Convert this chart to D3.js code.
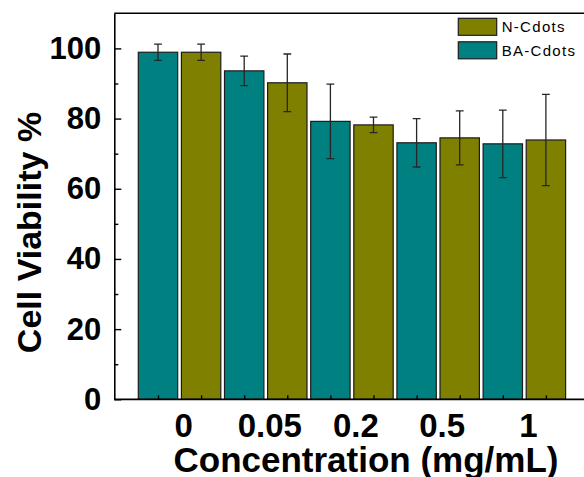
<!DOCTYPE html>
<html>
<head>
<meta charset="utf-8">
<script src="https://cdn.jsdelivr.net/npm/d3@7"></script>
<style>
  html, body { margin: 0; padding: 0; background: #fff; overflow: hidden; }
  svg { display: block; }
  text { font-family: Arial, "Liberation Sans", sans-serif; }
</style>
</head>
<body>
<svg id="chart" width="584" height="477"></svg>
<script>
// Concentrations tested (mg/mL)
const categories = ["0", "0.05", "0.2", "0.5", "1"];
// Series, in bar order within each concentration group
const seriesNames = ["BA-Cdots", "N-Cdots"];
const seriesColors = ["#008080", "#808000"];
// Mean cell viability (%)
const baMeans = [98.9, 93.6, 79.2, 73.1, 72.8];
const nMeans  = [98.9, 90.2, 78.2, 74.5, 73.9];
// Standard deviation (%)
const baErrors = [2.3, 4.2, 10.6, 6.9, 9.6];
const nErrors  = [2.3, 8.2, 2.2, 7.7, 13.0];
// Axis ticks
const yMajorTicks = [0, 20, 40, 60, 80, 100];
const yMinorTicks = [10, 30, 50, 70, 90];
const legendOrder = ["N-Cdots", "BA-Cdots"];

const means = { "BA-Cdots": baMeans, "N-Cdots": nMeans };
const errors = { "BA-Cdots": baErrors, "N-Cdots": nErrors };
const colorOf = d3.scaleOrdinal(seriesNames, seriesColors);

const rows = [];
categories.forEach((c, i) => {
  seriesNames.forEach(s => rows.push({ cat: c, series: s, value: means[s][i], err: errors[s][i] }));
});

const svg = d3.select("#chart");
const plot = { left: 114.3, top: 13.3, right: 600, bottom: 399.3 };

const y = d3.scaleLinear().domain([0, 110]).range([plot.bottom, plot.top]);
const groupStart = plot.left + 22.15;
const xCat = d3.scaleBand().domain(categories).range([groupStart, groupStart + 431]);
const xSeries = d3.scaleBand().domain(seriesNames).range([0, xCat.bandwidth()])
  .paddingInner(0.086).paddingOuter(0.043);
const barX = d => xCat(d.cat) + xSeries(d.series);
const barMid = d => barX(d) + xSeries.bandwidth() / 2;

// Bars
svg.append("g").selectAll("rect").data(rows).join("rect")
  .attr("x", barX)
  .attr("y", d => y(d.value))
  .attr("width", xSeries.bandwidth())
  .attr("height", d => y(0) - y(d.value))
  .attr("fill", d => colorOf(d.series))
  .attr("stroke", "#1c1c1c")
  .attr("stroke-width", 1.2);

// Error bars
const eb = svg.append("g").attr("stroke", "#262626").attr("stroke-width", 1.3).attr("fill", "none");
const cap = 3.9;
eb.selectAll("path").data(rows).join("path")
  .attr("d", d => {
    const cx = barMid(d), hi = y(d.value + d.err), lo = y(d.value - d.err);
    return `M${cx},${hi}V${lo}M${cx - cap},${hi}H${cx + cap}M${cx - cap},${lo}H${cx + cap}`;
  });

// Frame lines (top and bottom run past the right edge)
const frame = svg.append("g").attr("stroke", "#000").attr("stroke-width", 1.6).attr("fill", "none");
frame.append("path").attr("d", `M${plot.left},${plot.top}H${plot.right}`);

// Bottom axis: inward ticks at each bar centre
const barKeys = rows.map(d => d.cat + "|" + d.series);
const xBar = d3.scalePoint().domain(barKeys).range([barMid(rows[0]), barMid(rows[rows.length - 1])]);
const bottomAxis = svg.append("g").attr("transform", `translate(0,${plot.bottom})`)
  .call(d3.axisBottom(xBar).tickSizeInner(-4).tickSizeOuter(0).tickFormat(""));
bottomAxis.select(".domain").attr("d", `M${plot.left},0H${plot.right}`).attr("stroke-width", 1.8);
bottomAxis.selectAll(".tick line").attr("stroke-width", 1.4);

// Category labels
svg.append("g").attr("transform", `translate(4,${plot.bottom})`)
  .call(d3.axisBottom(xCat).tickSize(0).tickPadding(0))
  .call(g => g.select(".domain").remove())
  .selectAll("text")
  .attr("dy", null).attr("y", 37.4)
  .attr("font-size", 33).attr("font-weight", "bold").attr("fill", "#000")
  .attr("font-family", "Arial, 'Liberation Sans', sans-serif");

// Left axis: major ticks with labels, minor ticks without
const leftAxis = svg.append("g").attr("transform", `translate(${plot.left},0)`)
  .call(d3.axisLeft(y).tickValues(yMajorTicks).tickSizeInner(-7).tickSizeOuter(0).tickPadding(13));
leftAxis.select(".domain").attr("stroke-width", 1.6);
leftAxis.selectAll(".tick line").attr("stroke-width", 1.4);
leftAxis.selectAll("text")
  .attr("font-size", 31).attr("font-weight", "bold").attr("fill", "#000")
  .attr("font-family", "Arial, 'Liberation Sans', sans-serif");
svg.append("g").attr("transform", `translate(${plot.left},0)`)
  .call(d3.axisLeft(y).tickValues(yMinorTicks).tickSizeInner(-4).tickSizeOuter(0).tickFormat(""))
  .call(g => g.select(".domain").remove())
  .selectAll(".tick line").attr("stroke-width", 1.4);

// Axis titles
svg.append("text")
  .attr("x", 366).attr("y", 471.7)
  .attr("text-anchor", "middle")
  .attr("font-size", 35).attr("font-weight", "bold")
  .text("Concentration (mg/mL)");

svg.append("text")
  .attr("transform", "translate(41,232.5) rotate(-90)")
  .attr("text-anchor", "middle")
  .attr("font-size", 34).attr("font-weight", "bold")
  .text("Cell Viability %");

// Legend
const legend = svg.append("g").attr("transform", "translate(458.3,18.3)");
const li = legend.selectAll("g").data(legendOrder).join("g")
  .attr("transform", (d, i) => `translate(0,${i * 23.5})`);
li.append("rect")
  .attr("width", 38.4).attr("height", 17)
  .attr("fill", d => colorOf(d))
  .attr("stroke", "#1c1c1c").attr("stroke-width", 1.2);
li.append("text")
  .attr("x", 43.4).attr("y", 14)
  .attr("font-size", 15).attr("letter-spacing", 1.3)
  .text(d => d);
</script>
</body>
</html>
